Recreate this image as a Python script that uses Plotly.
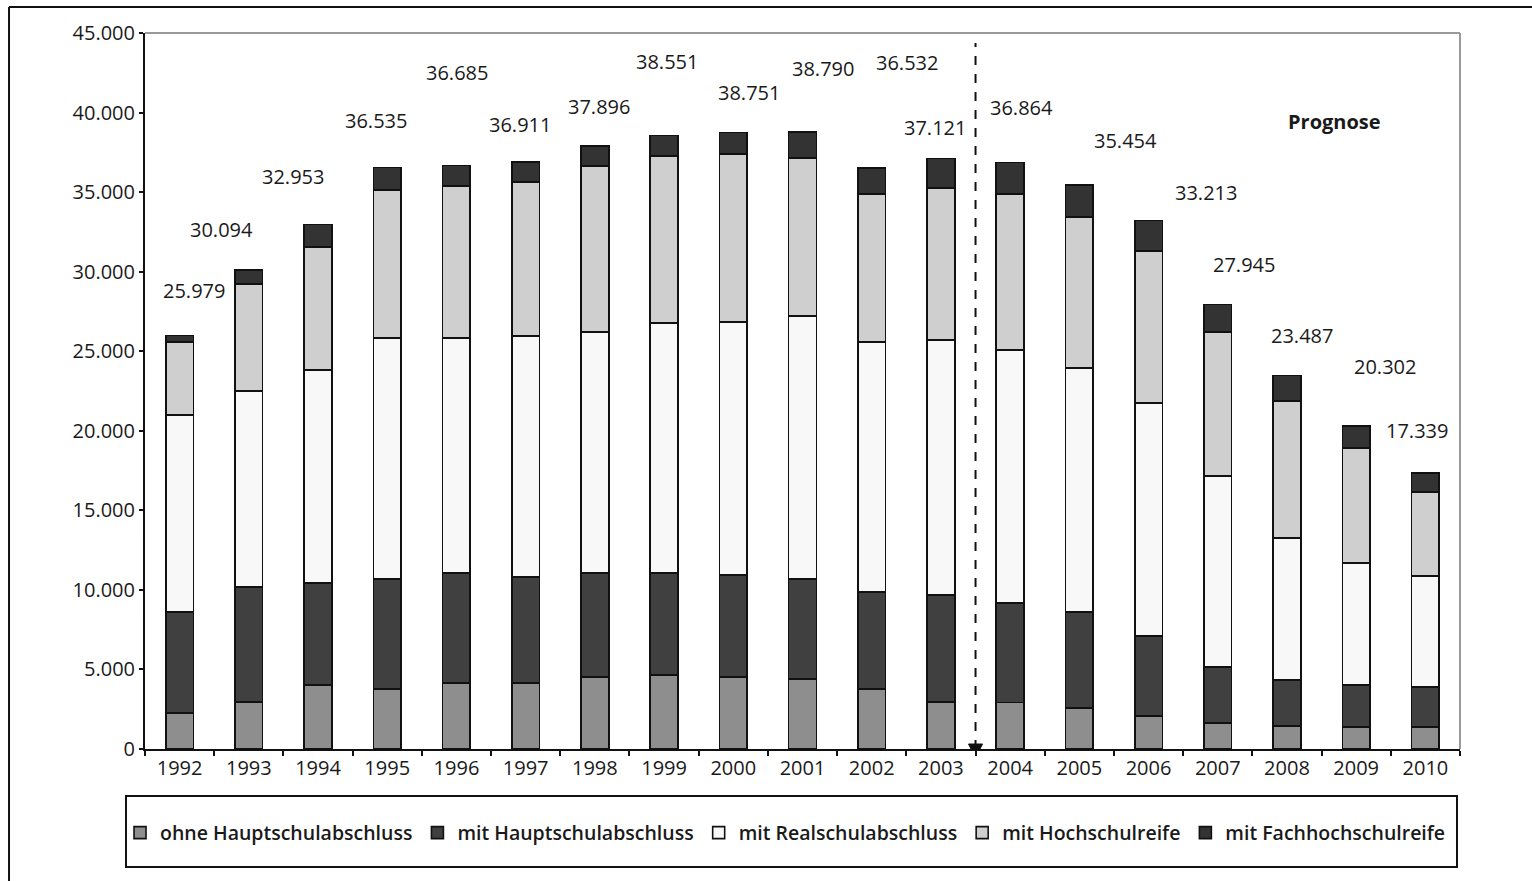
import plotly.graph_objects as go

years = [str(y) for y in range(1992, 2011)]
series_names = ["ohne Hauptschulabschluss", "mit Hauptschulabschluss", "mit Realschulabschluss",
                "mit Hochschulreife", "mit Fachhochschulreife"]

ohne_hs = [2260, 2950, 4020, 3770, 4150, 4150, 4530, 4650, 4530, 4400, 3770, 2950,
           2920, 2580, 2070, 1630, 1450, 1380, 1380]
mit_hs = [6340, 7230, 6410, 6920, 6910, 6660, 6530, 6410, 6410, 6290, 6100, 6730,
          6260, 6030, 5030, 3520, 2890, 2640, 2520]
mit_rs = [12400, 12320, 13390, 15140, 14770, 15150, 15150, 15720, 15900, 16530, 15710, 16030,
          15900, 15340, 14650, 12010, 8920, 7670, 6970]
mit_hsr = [4580, 6730, 7730, 9300, 9560, 9680, 10430, 10490, 10560, 9930, 9300, 9550,
           9800, 9490, 9550, 9050, 8610, 7230, 5280]
totals = [25979, 30094, 32953, 36535, 36685, 36911, 37896, 38551, 38751, 38790, 36532, 37121,
          36864, 35454, 33213, 27945, 23487, 20302, 17339]
mit_fhr = [t - a - b - c - d for t, a, b, c, d in zip(totals, ohne_hs, mit_hs, mit_rs, mit_hsr)]

# label placement (layout only)
label_y = [28790, 32620, 36000, 39470, 42490, 39280, 40410, 43180, 41290, 42740, 43120, 39090,
           40290, 38220, 34950, 30480, 25960, 24070, 19990]
label_dx = [14, -27, -25, -11, 1, -6, 4, 3, 16, 20, 35, -6, 11, 46, 57, 26, 15, 29, -8]

fills = ["#8e8e8e", "#404040", "#f8f8f8", "#cfcfcf", "#333333"]
FONT = "Open Sans"

fig = go.Figure()
for name, vals, col in zip(series_names, [ohne_hs, mit_hs, mit_rs, mit_hsr, mit_fhr], fills):
    fig.add_trace(go.Bar(x=years, y=vals, name=name,
                         marker=dict(color=col, line=dict(color="#111111", width=1.6))))

for i, (tot, ly, dx) in enumerate(zip(totals, label_y, label_dx)):
    fig.add_annotation(x=i, y=ly, xshift=dx, text=f"{tot:,}".replace(",", "."),
                       xanchor="center", yanchor="middle",
                       showarrow=False, font=dict(family=FONT, size=20, color="#1a1a1a"))

fig.add_annotation(xref="paper", yref="paper", x=0.9042, y=0.8757, text="<b>Prognose</b>",
                   xanchor="center", yanchor="middle",
                   showarrow=False, font=dict(family=FONT, size=20, color="#1a1a1a"))

# forecast divider
fig.add_shape(type="line", xref="x", yref="y", x0=11.5, x1=11.5, y0=0, y1=44370,
              line=dict(color="#111111", width=2, dash="dash"))
fig.add_shape(type="path", xref="x", yref="y", xsizemode="pixel", ysizemode="pixel",
              xanchor=11.5, yanchor=0, path="M-7,5 L7,5 L0,-9 Z",
              fillcolor="#111111", line=dict(color="#111111", width=1))

# plot-area top/right border
fig.add_shape(type="line", xref="paper", yref="paper", x0=0, x1=1, y0=1, y1=1,
              line=dict(color="#9a9a9a", width=2))
fig.add_shape(type="line", xref="paper", yref="paper", x0=1, x1=1, y0=0, y1=1,
              line=dict(color="#9a9a9a", width=2))

# outer frame (left and top)
fig.add_shape(type="line", xref="paper", yref="paper", x0=-0.1034, x1=-0.1034, y0=-0.2, y1=1.0363,
              line=dict(color="#111111", width=2))
fig.add_shape(type="line", xref="paper", yref="paper", x0=-0.1034, x1=1.1, y0=1.0363, y1=1.0363,
              line=dict(color="#111111", width=2))

# legend box
fig.add_shape(type="rect", xref="paper", yref="paper", x0=-0.01445, x1=0.99772, y0=-0.1648, y1=-0.0656,
              line=dict(color="#111111", width=2), fillcolor="rgba(0,0,0,0)")

fig.update_layout(
    width=1532, height=881,
    margin=dict(l=145, r=72, t=33, b=132),
    paper_bgcolor="white", plot_bgcolor="white",
    barmode="stack", bargap=0.6,
    separators=",.",
    font=dict(family=FONT, size=20, color="#1a1a1a"),
    legend=dict(orientation="h", x=-0.019, xanchor="left", y=-0.1173, yanchor="middle",
                traceorder="normal", font=dict(family=FONT, size=19.5, weight=600, color="#1a1a1a"),
                bgcolor="rgba(0,0,0,0)", borderwidth=0, itemclick=False),
    xaxis=dict(type="category", range=[-0.5, 18.5], showline=True, linecolor="#111111", linewidth=2,
               ticks="outside", tickson="boundaries", ticklen=5, tickwidth=2, tickcolor="#111111",
               showgrid=False, tickangle=0, tickfont=dict(size=20)),
    yaxis=dict(range=[0, 45000], dtick=5000, tickformat=",d", showline=True, linecolor="#111111",
               linewidth=2, ticks="outside", ticklen=4, tickwidth=2, tickcolor="#111111",
               ticklabelstandoff=0,
               showgrid=False, zeroline=False, tickfont=dict(size=20)),
)

fig.write_html("out.html", config={"displayModeBar": False},
               post_script="document.body.style.margin='0';")
